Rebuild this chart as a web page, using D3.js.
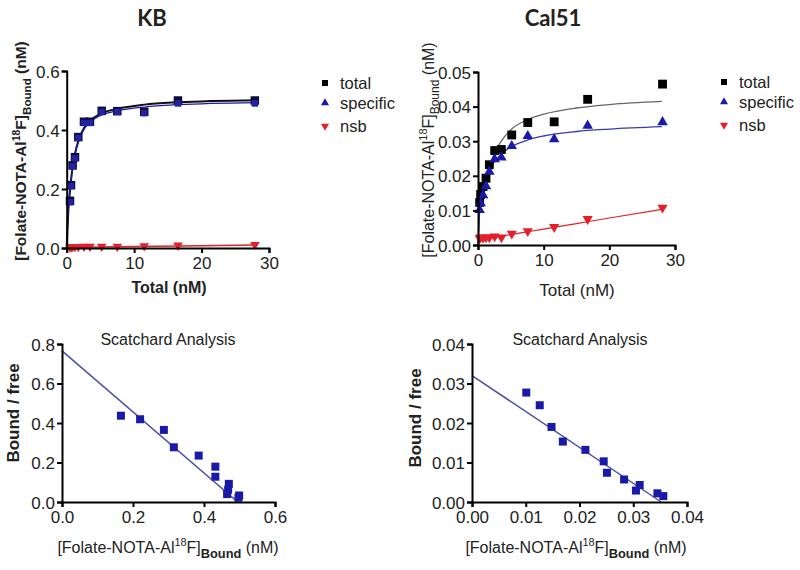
<!DOCTYPE html>
<html><head><meta charset="utf-8">
<script src="https://cdn.jsdelivr.net/npm/d3@7"></script>
<style>
body{margin:0;background:#fff;}
svg{display:block;}
text{font-family:"Liberation Sans",Arial,sans-serif;}
</style></head>
<body>
<svg id="c" width="800" height="570"></svg>
<script>
// ---------- data ----------
const kbX        = [0.49, 0.64, 0.88, 1.23, 1.72, 2.56, 3.45, 5.19, 7.5, 11.5, 16.5, 27.9];
const kbTotal    = [0.160, 0.213, 0.280, 0.308, 0.376, 0.428, 0.428, 0.465, 0.464, 0.462, 0.500, 0.500];
const kbSpecific = [0.155, 0.210, 0.277, 0.304, 0.373, 0.424, 0.424, 0.461, 0.461, 0.457, 0.490, 0.490];
const kbNsb      = [0.003, 0.003, 0.004, 0.004, 0.004, 0.005, 0.005, 0.005, 0.005, 0.007, 0.009, 0.011];
const kbCurveX        = [0, 0.1, 0.25, 0.5, 0.75, 1, 1.5, 2, 2.6, 3.5, 5, 7.5, 11.5, 16.6, 28];
const kbCurveSpecific = [0, 0.06, 0.13, 0.195, 0.25, 0.29, 0.342, 0.376, 0.404, 0.427, 0.449, 0.465, 0.478, 0.486, 0.493];
const kbCurveTotal    = [0, 0.06, 0.13, 0.196, 0.252, 0.293, 0.345, 0.380, 0.408, 0.432, 0.455, 0.472, 0.486, 0.494, 0.501];
const kbCurveNsbX     = [0, 10, 20, 28];
const kbCurveNsb      = [0.002, 0.005, 0.008, 0.010];

const calX        = [0.25, 0.4, 0.77, 1.22, 1.73, 2.54, 3.56, 5.14, 7.58, 11.6, 16.7, 28.1];
const calTotal    = [0.0123, 0.0146, 0.0169, 0.0193, 0.0232, 0.0273, 0.0276, 0.0318, 0.0354, 0.0356, 0.0421, 0.0465];
const calSpecific = [0.0101, 0.0121, 0.0144, 0.0170, 0.0212, 0.0248, 0.0253, 0.0286, 0.0315, 0.0306, 0.0345, 0.0355];
const calNsb      = [0.0020, 0.0022, 0.0021, 0.0022, 0.0022, 0.0025, 0.0022, 0.0033, 0.0040, 0.0052, 0.0075, 0.0108];
const calCurveX        = [0, 0.1, 0.25, 0.5, 0.75, 1, 1.5, 2, 2.5, 3.5, 5, 7.5, 10, 15, 20, 28];
const calCurveSpecific = [0, 0.005, 0.0095, 0.0135, 0.016, 0.0178, 0.0205, 0.0225, 0.024, 0.0262, 0.0283, 0.0303, 0.0315, 0.0328, 0.0335, 0.0342];
const calCurveTotal    = [0, 0.005, 0.0105, 0.0145, 0.017, 0.019, 0.0215, 0.024, 0.0265, 0.0299, 0.0333, 0.0362, 0.0378, 0.0396, 0.0406, 0.0415];
const calCurveNsbX     = [0, 2.5, 5, 7.5, 10, 15, 20, 28];
const calCurveNsb      = [0.0015, 0.0022, 0.0030, 0.0038, 0.0046, 0.0062, 0.0078, 0.0103];

const kbScatBound = [0.166, 0.220, 0.287, 0.315, 0.385, 0.432, 0.432, 0.470, 0.468, 0.465, 0.499, 0.497];
const kbScatBF    = [0.437, 0.419, 0.365, 0.277, 0.235, 0.179, 0.128, 0.092, 0.062, 0.040, 0.033, 0.022];
const kbScatLineX = [0, 0.495];
const kbScatLineY = [0.765, 0];

const calScatBound = [0.0101, 0.0126, 0.0148, 0.0169, 0.0211, 0.0245, 0.0251, 0.0283, 0.0305, 0.0312, 0.0345, 0.0356];
const calScatBF    = [0.0277, 0.0245, 0.0190, 0.0153, 0.0132, 0.0103, 0.0074, 0.0057, 0.0029, 0.0043, 0.0022, 0.0015];
const calScatLineX = [0, 0.0352];
const calScatLineY = [0.0320, 0];

const topXTicks = [0, 10, 20, 30];
const kbYTicks = [0, 0.2, 0.4, 0.6];
const calYTicks = [0, 0.01, 0.02, 0.03, 0.04, 0.05];
const kbScatXTicks = [0, 0.2, 0.4, 0.6];
const kbScatYTicks = [0, 0.2, 0.4, 0.6, 0.8];
const calScatXTicks = [0, 0.01, 0.02, 0.03, 0.04];
const calScatYTicks = [0, 0.01, 0.02, 0.03, 0.04];
const legendLabels = ["total", "specific", "nsb"];

// ---------- drawing ----------
const svg = d3.select("#c");
const BLACK = "#000", BLUE = "#1a1aa8", RED = "#e3202a", LINEBLUE = "#4a4fa0";

function axes(g, x, y, xt, yt, xf, yf) {
  const ax = g.append("g").attr("transform", `translate(0,${y.range()[0]})`)
    .call(d3.axisBottom(x).tickValues(xt).tickFormat(xf).tickSizeOuter(0).tickSize(5).tickPadding(4));
  const ay = g.append("g").attr("transform", `translate(${x.range()[0]},0)`)
    .call(d3.axisLeft(y).tickValues(yt).tickFormat(yf).tickSizeOuter(0).tickSize(5).tickPadding(2));
  [ax, ay].forEach(a => {
    a.select(".domain").attr("stroke", "#000").attr("stroke-width", 2);
    a.selectAll(".tick line").attr("stroke", "#000").attr("stroke-width", 2);
    a.selectAll(".tick text").attr("fill", "#222").style("font-size", "17px")
      .style("font-family", '"Liberation Sans",Arial,sans-serif');
  });
  ay.selectAll(".tick text").attr("dy", "0.36em");
}

function yLabel(g, x, y, weight, size) {
  const t = g.append("text").attr("transform", `translate(${x},${y}) rotate(-90)`)
    .attr("text-anchor", "middle").style("font-size", size + "px").style("font-weight", weight).attr("fill", "#222");
  t.append("tspan").text("[Folate-NOTA-Al");
  t.append("tspan").text("18").style("font-size", (size * 0.68) + "px").attr("dy", -size * 0.42);
  t.append("tspan").text("F]").attr("dy", size * 0.42);
  t.append("tspan").text("Bound").style("font-size", (size * 0.75) + "px").attr("dy", size * 0.3);
  t.append("tspan").text(" (nM)").attr("dy", -size * 0.3);
  return t;
}
function xLabelBound(g, x, y, size) {
  const t = g.append("text").attr("x", x).attr("y", y).attr("text-anchor", "middle")
    .style("font-size", size + "px").attr("fill", "#222");
  t.append("tspan").text("[Folate-NOTA-Al");
  t.append("tspan").text("18").style("font-size", (size * 0.68) + "px").attr("dy", -size * 0.42);
  t.append("tspan").text("F]").attr("dy", size * 0.42);
  t.append("tspan").text("Bound").style("font-size", (size * 0.8) + "px").style("font-weight", "bold").attr("dy", size * 0.3);
  t.append("tspan").text(" (nM)").attr("dy", -size * 0.3);
}

const sq = d3.symbol().type(d3.symbolSquare);
const tri = d3.symbol().type(d3.symbolTriangle);

function points(g, x, y, xs, ys, type, size, color, down) {
  g.append("g").selectAll("path").data(xs.map((d, i) => [d, ys[i]])).join("path")
    .attr("d", (type === "sq" ? sq : tri).size(size)())
    .attr("transform", d => `translate(${x(d[0])},${y(d[1])})` + (down ? " rotate(180)" : ""))
    .attr("fill", color);
}
function curve(g, x, y, xs, ys, color, w, smooth) {
  const line = d3.line().x(d => x(d[0])).y(d => y(d[1]));
  if (smooth) line.curve(d3.curveMonotoneX);
  g.append("path").datum(xs.map((d, i) => [d, ys[i]])).attr("d", line)
    .attr("fill", "none").attr("stroke", color).attr("stroke-width", w);
}
function legend(g, x, y0) {
  const ys = [y0, y0 + 20, y0 + 43];
  g.append("path").attr("d", sq.size(36)()).attr("transform", `translate(${x},${ys[0]})`).attr("fill", BLACK);
  g.append("path").attr("d", tri.size(28)()).attr("transform", `translate(${x},${ys[1]})`).attr("fill", BLUE);
  g.append("path").attr("d", tri.size(28)()).attr("transform", `translate(${x},${ys[2]}) rotate(180)`).attr("fill", RED);
  legendLabels.forEach((l, i) => g.append("text").attr("x", x + 15).attr("y", ys[i] + 6)
    .style("font-size", "16.5px").attr("fill", "#222").text(l));
}

// Panel 1: KB
{
  const g = svg.append("g");
  const x = d3.scaleLinear().domain([0, 30]).range([66.7, 269]);
  const y = d3.scaleLinear().domain([0, 0.6]).range([248, 71]);
  curve(g, x, y, kbCurveNsbX, kbCurveNsb, RED, 1.5, false);
  curve(g, x, y, kbCurveX, kbCurveTotal, "#111", 2, true);
  curve(g, x, y, kbCurveX, kbCurveSpecific, BLUE, 1.2, true);
  points(g, x, y, kbX, kbNsb, "tri", 40, RED, true);
  points(g, x, y, kbX, kbTotal, "sq", 72, "#0b0b40");
  points(g, x, y, kbX, kbSpecific, "sq", 42, "#2323a0");
  axes(g, x, y, topXTicks, kbYTicks, d3.format(".0f"), d3.format(".1f"));
  g.append("text").attr("x", 152).attr("y", 26).attr("text-anchor", "middle")
    .style("font-family", "Lato, 'Open Sans', sans-serif").style("font-weight", "bold").style("font-size", "22px")
    .attr("fill", "#222").text("KB");
  g.append("text").attr("x", 169).attr("y", 293).attr("text-anchor", "middle")
    .style("font-weight", "bold").style("font-size", "16px").attr("fill", "#222").text("Total (nM)");
  yLabel(g, 26, 151, "bold", 15.5);
  legend(g, 325, 83);
}

// Panel 2: Cal51
{
  const g = svg.append("g");
  const x = d3.scaleLinear().domain([0, 30]).range([478, 675]);
  const y = d3.scaleLinear().domain([0, 0.05]).range([245, 72]);
  curve(g, x, y, calCurveNsbX, calCurveNsb, RED, 1.2, true);
  curve(g, x, y, calCurveX, calCurveTotal, "#666", 1.3, true);
  curve(g, x, y, calCurveX, calCurveSpecific, "#3a3ab0", 1.3, true);
  points(g, x, y, calX, calNsb, "tri", 45, RED, true);
  points(g, x, y, calX, calTotal, "sq", 78, BLACK);
  points(g, x, y, calX, calSpecific, "tri", 48, BLUE);
  axes(g, x, y, topXTicks, calYTicks, d3.format(".0f"), d3.format(".2f"));
  g.append("text").attr("x", 553).attr("y", 26).attr("text-anchor", "middle")
    .style("font-family", "Lato, 'Open Sans', sans-serif").style("font-weight", "bold").style("font-size", "22px")
    .attr("fill", "#222").text("Cal51");
  g.append("text").attr("x", 577).attr("y", 296).attr("text-anchor", "middle")
    .style("font-size", "17px").attr("fill", "#222").text("Total (nM)");
  yLabel(g, 434, 150, "normal", 16);
  legend(g, 724, 82);
}

// Panel 3: KB Scatchard
{
  const g = svg.append("g");
  const x = d3.scaleLinear().domain([0, 0.6]).range([62, 275]);
  const y = d3.scaleLinear().domain([0, 0.8]).range([502, 344]);
  curve(g, x, y, kbScatLineX, kbScatLineY, LINEBLUE, 1.5, false);
  points(g, x, y, kbScatBound, kbScatBF, "sq", 64, BLUE);
  axes(g, x, y, kbScatXTicks, kbScatYTicks, d3.format(".1f"), d3.format(".1f"));
  g.append("text").attr("x", 168).attr("y", 345).attr("text-anchor", "middle")
    .style("font-size", "16px").attr("fill", "#222").text("Scatchard Analysis");
  g.append("text").attr("transform", "translate(19,413) rotate(-90)").attr("text-anchor", "middle")
    .style("font-size", "17px").style("font-weight", "bold").attr("fill", "#222").text("Bound / free");
  xLabelBound(g, 168, 553, 16);
}

// Panel 4: Cal51 Scatchard
{
  const g = svg.append("g");
  const x = d3.scaleLinear().domain([0, 0.04]).range([472, 687]);
  const y = d3.scaleLinear().domain([0, 0.04]).range([502, 344]);
  curve(g, x, y, calScatLineX, calScatLineY, LINEBLUE, 1.5, false);
  points(g, x, y, calScatBound, calScatBF, "sq", 64, BLUE);
  axes(g, x, y, calScatXTicks, calScatYTicks, d3.format(".2f"), d3.format(".2f"));
  g.append("text").attr("x", 580).attr("y", 345).attr("text-anchor", "middle")
    .style("font-size", "16px").attr("fill", "#222").text("Scatchard Analysis");
  g.append("text").attr("transform", "translate(421,418) rotate(-90)").attr("text-anchor", "middle")
    .style("font-size", "17px").style("font-weight", "bold").attr("fill", "#222").text("Bound / free");
  xLabelBound(g, 576, 553, 16);
}
</script>
</body></html>
